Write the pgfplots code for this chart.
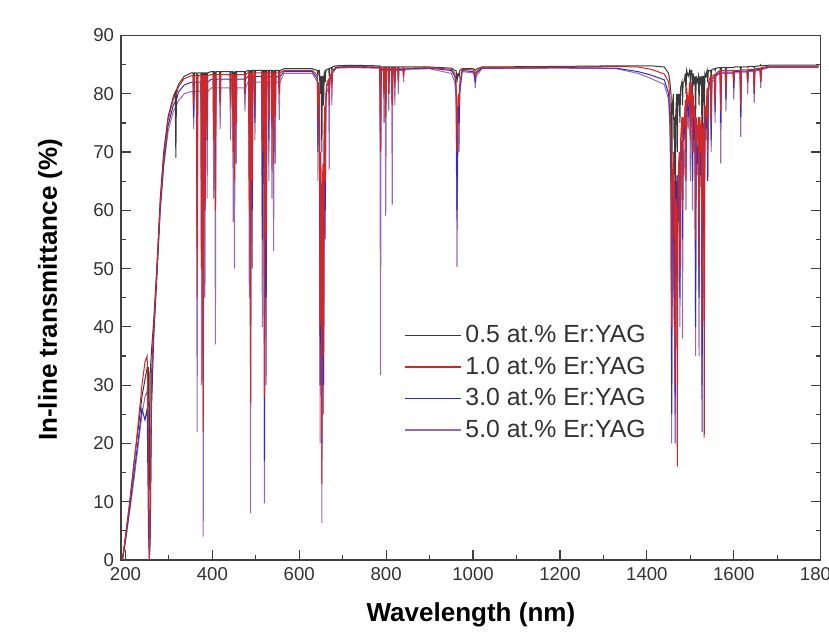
\documentclass[border=0pt]{standalone}
\usepackage{pgfplots}
\pgfplotsset{compat=1.18}
\usepackage{pgfplotstable}
\usepackage{fontspec}
\setmainfont{Liberation Sans}

\definecolor{cg}{HTML}{3A3A3A}
\definecolor{cr}{HTML}{D02828}
\definecolor{cb}{HTML}{3030C0}
\definecolor{cv}{HTML}{9A6AAA}

\pgfplotstableread{
lam g r b v
193 0 0 0 0
200 4 4 3.5 3
210 10 10 9 8.5
220 17 16.5 15 14
230 23 24 21 20
238 28 30 26 25
245 31 34 24 28
250 33 35 26 29
253 33 20 5 15
255 12 0 0 0
257 32 8 5 3
260 36 32 26 28
265 41 40 38 39
272 50 49 48 49
280 62 61 60 60
288 70 69 68 67.5
298 76 75.5 74.5 73.5
310 79.5 79 78 77
314.5 80.3 79.7 78.7 77.6
316 69 79.8 78.8 77.7
317.5 80.6 80 79 78
322 81.6 81.2 80.3 78.8
335 83 82.6 81.5 80
352 83.6 83.1 82.0 80.4
355.5 83.6 83.1 82.0 80.4
357 80 78 76 74
358.5 83.6 83.1 82.0 80.4
363.5 83.6 83.1 82.0 80.4
365 70 45 60 22
366.5 83.6 83.1 82.0 80.4
373.8 83.6 83.1 82.0 80.4
375 75 50 55 30
376.5 83.6 83.1 82.0 80.4
377.5 83.6 83.1 82.0 80.4
379 60 22 35 4
380.5 83.6 83.1 82.0 80.4
381.8 83.6 83.1 82.0 80.4
383 78 60 60 45
384.2 83.6 83.1 82.0 80.4
386.8 83.6 83.1 82.0 80.4
388 82 72 72 62
389.2 83.6 83.1 82.0 80.4
397 83.8 83.3 82.5 81.0
401.8 83.8 83.3 82.5 81.0
403 80 72 75 62
404.2 83.8 83.3 82.5 81.0
405.5 83.8 83.3 82.5 81.0
407 75 60 65 37
408.5 83.8 83.3 82.5 81.0
416.5 83.8 83.3 82.5 81.0
418 82 78 79 74
419.5 83.8 83.3 82.5 81.0
440.5 83.8 83.3 82.5 81.0
442 82 78 79 72
443.5 83.8 83.3 82.5 81.0
446.8 83.8 83.3 82.5 81.0
448 80 70 72 58
449.2 83.8 83.3 82.5 81.0
451 78 65 70 50
452.5 83.8 83.3 82.5 81.0
453.8 83.8 83.3 82.5 81.0
455 82 75 77 68
456.2 83.8 83.3 82.5 81.0
473.5 83.8 83.3 82.5 81.0
475 83 80 80 77
476.5 83.8 83.3 82.5 81.0
482 84.0 83.6 83.0 82.0
483.8 84.0 83.6 83.0 82.0
485 80 60 65 45
486.2 84.0 83.6 83.0 82.0
488 70 27 40 8
489.5 84.0 83.6 83.0 82.0
490.8 84.0 83.6 83.0 82.0
492 80 65 60 50
493.2 84.0 83.6 83.0 82.0
496.8 84.0 83.6 83.0 82.0
498 83 78 75 72
499.2 84.0 83.6 83.0 82.0
513.8 84.0 83.6 83.0 82.0
515 80 70 55 40
516.2 84.0 83.6 83.0 82.0
518.5 84.0 83.6 83.0 82.0
520 68 28 17 9.7
521.5 84.0 83.6 83.0 82.0
522.8 84.0 83.6 83.0 82.0
524 78 55 45 30
525.2 84.0 83.6 83.0 82.0
528.8 84.0 83.6 83.0 82.0
530 82 75 72 65
531.2 84.0 83.6 83.0 82.0
535.8 84.0 83.6 83.0 82.0
537 82 74 75 62
538.2 84.0 83.6 83.0 82.0
539.5 84.0 83.6 83.0 82.0
541 80 68 70 53
542.5 84.0 83.6 83.0 82.0
543.8 84.0 83.6 83.0 82.0
545 82 76 78 68
546.2 84.0 83.6 83.0 82.0
552.5 84.0 83.6 83.0 82.0
554 83 80 81 75.5
555.5 84.0 83.6 83.0 82.0
565 84.3 84.0 83.8 83.5
630 84.3 84.0 83.8 83.5
638 84.1 83.5 83.0 82.5
641.8 84 83 82.5 82
643 83 75 70 65
644.2 84 82 81 80
646.5 84 80 78 76
648 80 40 30 20
649.5 83 70 65 60
650.5 83 65 60 55
652 70 13 20 6.3
653.5 83 65 60 55
654.5 83 68 62 60
656 78 35 30 25
657.5 83.5 75 72 70
658.8 83.8 78 76 74
660 82 65 60 55
661.2 84 80 79 78
664 84.2 82 81.5 80.5
667.8 84.3 82.5 82 81
669 83 78 80 67
670.2 84.4 83 82.5 82
673.8 84.5 83.5 83.2 83
675 84 81 82 78
676.2 84.6 84 83.8 83.5
685 84.8 84.6 84.5 84.4
720 84.9 84.7 84.6 84.5
780 84.8 84.6 84.5 84.4
785.5 84.8 84.6 84.5 84.4
787 80 70 72 31.7
788.5 84.6 84.4 84.2 84
793.8 84.6 84.4 84.2 84
795 83 80 81 75
796.2 84.6 84.4 84.2 84
797.5 84.6 84.4 84.2 84
799 82 76 78 59
800.5 84.6 84.4 84.2 84
804.8 84.6 84.4 84.2 84
806 83 80 80 77
807.2 84.6 84.4 84.2 84
812.5 84.6 84.4 84.2 84
814 83 78 79 61
815.5 84.6 84.4 84.2 84
818.8 84.6 84.4 84.2 84
820 84 81 82 78
821.2 84.6 84.4 84.2 84
826.8 84.6 84.4 84.2 84
828 84 82 83 80
829.2 84.6 84.4 84.2 84
838.8 84.6 84.4 84.2 84
840 84.5 83 83.5 82
841.2 84.6 84.4 84.2 84
850 84.6 84.4 84.3 84.2
900 84.6 84.5 84.4 84.3
950 84.4 84.2 84 83.5
958 84 83.5 83 82
961 84 82 81 79
963 82 70 60 50.3
965 83.5 79 77 72
966.5 83.5 80 78 76
968 83 78 75 70
969.5 84 82 81 80
975 84.3 84.2 84 83.8
1000 84.3 84.1 83.8 83.6
1003 84.2 83.8 83.5 83
1005 84 83 82 81
1007 84.2 83.8 83.5 83
1020 84.6 84.5 84.4 84.3
1200 84.7 84.6 84.5 84.4
1330 84.8 84.7 84.4 84.3
1380 84.8 84.6 83.8 83.5
1410 84.8 84.2 83.2 82.6
1440 84.6 83.4 82.4 81.6
1450 83.5 82 80 79
1453 82 79 76 74
1455.5 80 72 65 62
1457 60 40 25 20
1458.5 78 65 60 55
1461 80 70 66 62
1462.5 72 55 45 40
1463.8 76 65 55 55
1465 40 30 20 25
1466.2 76 62 55 60
1468.5 80 60 65 66
1470 70 16 35 40
1471.5 80 62 66 66
1473 78 68 58 60
1474.5 80 70 68 66
1476 75 50 45 40
1477.5 81 72 70 66
1480.5 82 76 72 68
1482 78 60 55 38
1483.5 82 76 74 70
1485.5 82 74 72 66
1488.5 83.5 79 78 74
1490 80 65 70 60
1491.5 84 81 80 78
1495 83 78 76 74
1498.5 84 82 81 80
1500 82 72 75 65
1501.5 84 82 81 80
1503.5 84 81 80 79
1505 80 70 65 60
1506.5 83.5 80 78 77
1508.5 82 76 72 70
1510.5 83 78 76 74
1512 75 55 40 35
1513.5 83 76 72 72
1516 82 72 68 66
1518.5 83 76 74 72
1520 78 50 45 35
1521.5 83 76 74 72
1523.5 82 70 66 64
1525.5 83 76 74 72
1527 70 40 22 30
1528.5 83 74 70 70
1530.5 83 75 74 72
1532 75 21 45 40
1533.5 83.5 78 76 75
1536 83 76 74 72
1538.5 84 81 80 79
1540 82 70 65 65
1541.5 84 82 81 80
1546.5 84 83 82.5 82
1548 83 75 72 70
1549.5 84.2 83 82.5 82
1555.5 84.3 83.3 83 82.5
1557 84 78 77 75
1558.5 84.4 83.5 83.2 83
1568.5 84.5 84 83.7 83.5
1570 83 77 75 68
1571.5 84.5 84 83.7 83.5
1580.5 84.5 84 83.7 83.5
1582 84 80 79 77
1583.5 84.5 84 83.7 83.5
1598.5 84.5 84 83.7 83.5
1600 84.5 82 81 79
1601.5 84.6 84 83.8 83.6
1614.5 84.6 84 83.8 83.6
1616 84 78 76 72.6
1617.5 84.6 84.1 83.9 83.7
1630.5 84.6 84.1 83.9 83.7
1632 84.5 82 82 80
1633.5 84.7 84.2 84 83.8
1645.5 84.7 84.2 84 83.8
1647 84.5 80 80 78.4
1648.5 84.7 84.3 84.1 83.9
1660.5 84.8 84.4 84.2 84
1662 85 82 82 81
1663.5 84.8 84.5 84.3 84.1
1680 84.9 84.7 84.6 84.5
1795 84.9 84.7 84.6 84.5
}\spec

\begin{document}
\begin{tikzpicture}
\begin{axis}[
  scale only axis, width=349.5bp, height=262bp,
  xmin=190, xmax=1800, ymin=0, ymax=90,
  xtick={200,400,...,1800}, ytick={0,10,...,90},
  minor x tick num=1, minor y tick num=1,
  xtick pos=lower, ytick pos=both,
  tick align=inside,
  major tick length=5bp, minor tick length=2.5bp,
  tick style={black!75, line width=0.6bp},
  axis line style={black!75, line width=0.8bp},
  ticklabel style={font=\fontsize{9.3bp}{11bp}\selectfont, text=black!80},
  xticklabel style={yshift=-0.5bp},
  /pgf/number format/assume math mode=true,
  /pgf/number format/1000 sep={},
  xlabel={Wavelength (nm)},
  ylabel={In-line transmittance (\%)},
  every axis x label/.style={at={(axis description cs:0.5,-0.104)}, anchor=center,
    font=\bfseries\fontsize{13bp}{15bp}\selectfont},
  every axis y label/.style={at={(axis description cs:-0.1016,0.515)}, anchor=center, rotate=90,
    font=\bfseries\fontsize{13bp}{15bp}\selectfont},
  legend style={at={(axis description cs:0.395,0.463)}, anchor=north west, draw=none, fill=none,
    font=\fontsize{12.4bp}{14bp}\selectfont, row sep=1.6bp},
  legend cell align=left,
  legend image code/.code={\draw[#1, line width=0.8bp] (0bp,0bp) -- (28bp,0bp);},
]
\addplot[cv, line width=0.5bp, forget plot] table[x=lam, y=v]{\spec};
\addplot[cb, line width=0.5bp, forget plot] table[x=lam, y=b]{\spec};
\addplot[cg, line width=0.5bp, forget plot] table[x=lam, y=g]{\spec};
\addplot[cr, line width=0.5bp, forget plot] table[x=lam, y=r]{\spec};
\addlegendimage{cg, line width=0.5bp}
\addlegendentry{\textcolor{black!80}{0.5 at.\% Er:YAG}}
\addlegendimage{cr, line width=0.5bp}
\addlegendentry{\textcolor{black!80}{1.0 at.\% Er:YAG}}
\addlegendimage{cb, line width=0.5bp}
\addlegendentry{\textcolor{black!80}{3.0 at.\% Er:YAG}}
\addlegendimage{cv, line width=0.5bp}
\addlegendentry{\textcolor{black!80}{5.0 at.\% Er:YAG}}
\coordinate (SW) at (rel axis cs:0,0);
\coordinate (NE) at (rel axis cs:1,1);
\end{axis}
\pgfresetboundingbox
\path[use as bounding box] ([xshift=-60.5bp,yshift=-38.25bp]SW) rectangle ([xshift=4.15bp,yshift=17.75bp]NE);
\end{tikzpicture}
\end{document}
